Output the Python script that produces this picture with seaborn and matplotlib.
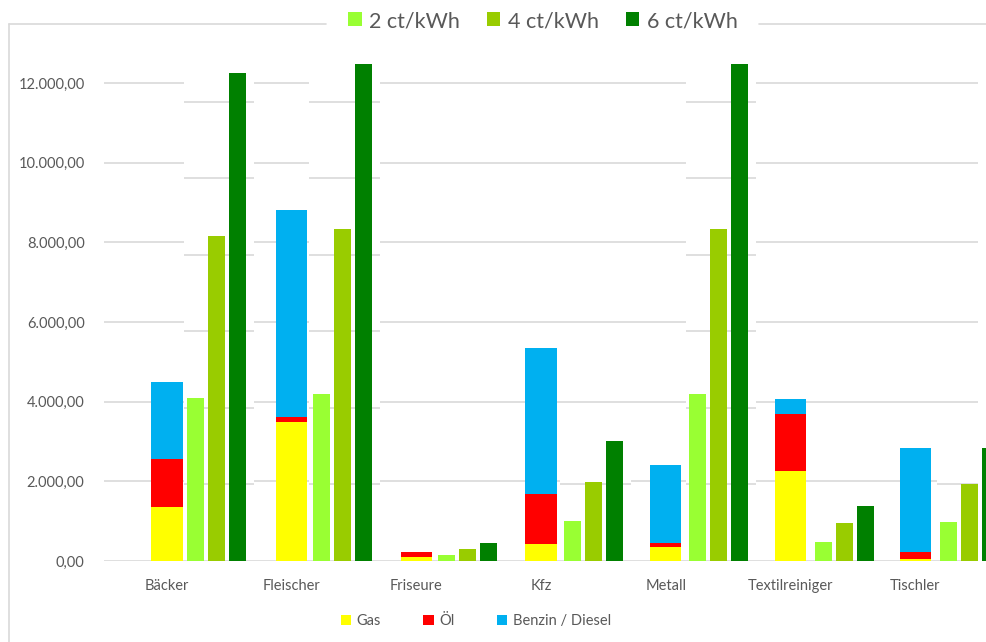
import matplotlib
matplotlib.use("Agg")
import matplotlib.pyplot as plt
from matplotlib.patches import Rectangle, Patch
from matplotlib.lines import Line2D
from matplotlib.ticker import FuncFormatter
import seaborn as sns
import pandas as pd

# ---- data -------------------------------------------------------------
categories = ["Bäcker", "Fleischer", "Friseure", "Kfz", "Metall", "Textilreiniger", "Tischler"]

# current energy costs by carrier (stacked)
gas    = [1360, 3500,  95,  420,  345, 2270,   60]
oel    = [1190,  110, 140, 1260,  100, 1410,  175]
benzin = [1940, 5200,   0, 3670, 1965,  390, 2605]
carrier_labels = ["Gas", "Öl", "Benzin / Diesel"]

# electricity cost at different price levels (secondary scale)
price_labels = ["2 ct/kWh", "4 ct/kWh", "6 ct/kWh"]
strom_2ct = [4250, 4370, 160, 1050, 4370,  505, 1010]
strom_4ct = [8500, 8680, 310, 2070, 8680,  985, 2005]
strom_6ct = [12770, 12990, 460, 3140, 12990, 1445, 2950]

y_ticks = [0, 2000, 4000, 6000, 8000, 10000, 12000]

# ---- style ------------------------------------------------------------
sns.set_theme(style="white")
plt.rcParams["font.family"] = ["Lato", "DejaVu Sans"]

c_gas, c_oel, c_benzin = "#FFFF00", "#FF0000", "#00B0F0"
greens = ["#99FF33", "#99CC00", "#008000"]
grid_c = "#D9D9D9"
text_c = "#595959"

W, H = 987, 642
fig = plt.figure(figsize=(W / 100, H / 100), dpi=100)
fig.patch.set_facecolor("white")


def fx(px):
    return px / W


def fy(py):
    return 1 - py / H


rect = [fx(104), fy(561), fx(978) - fx(104), fy(23) - fy(561)]

# ---- primary axis: stacked carriers ------------------------------------
ax = fig.add_axes(rect)
df = pd.DataFrame({"Gewerk": categories, "Gas": gas, "Öl": oel, "Benzin / Diesel": benzin})
df["bis_oel"] = df["Gas"] + df["Öl"]
df["bis_benzin"] = df["bis_oel"] + df["Benzin / Diesel"]

for col, colr in [("bis_benzin", c_benzin), ("bis_oel", c_oel), ("Gas", c_gas)]:
    sns.barplot(data=df, x="Gewerk", y=col, color=colr, saturation=1, width=0.25,
                linewidth=0, errorbar=None, ax=ax, zorder=2)

ax.set_xlim(-0.505, 6.504)
ax.set_ylim(0, 13506)
ax.set_yticks(y_ticks)
ax.yaxis.set_major_formatter(FuncFormatter(
    lambda v, p: f"{v:,.2f}".replace(",", "X").replace(".", ",").replace("X", ".")))
ax.yaxis.grid(True, color=grid_c, lw=1.2)
ax.set_axisbelow(True)
for s in ax.spines.values():
    s.set_visible(False)
ax.set_xlabel("")
ax.set_ylabel("")
ax.tick_params(axis="y", length=0, pad=14, labelsize=10.5, labelcolor=text_c)
ax.tick_params(axis="x", length=0, pad=13, labelsize=10.5, labelcolor=text_c)

# ---- secondary axis: electricity price scenarios -----------------------
ax2 = fig.add_axes(rect, facecolor="none")
gdf = pd.DataFrame({
    "Gewerk": categories * 3,
    "Preis": [p for p in price_labels for _ in categories],
    "Kosten": strom_2ct + strom_4ct + strom_6ct,
})
sns.barplot(data=gdf, x="Gewerk", y="Kosten", hue="Preis", palette=greens,
            saturation=1, width=0.502, gap=0.19, linewidth=0, errorbar=None,
            legend=False, ax=ax2, zorder=3)
for p in ax2.patches:
    p.set_clip_on(False)

ax2.set_xlim(-0.899, 6.065)
ax2.set_ylim(0, 14065)

# white backdrop behind each group of price bars with its own grid lines
left, right = 0.265, 0.30
for i, top in enumerate(strom_6ct):
    ax2.add_patch(Rectangle((i - left, 0), left + right, top, facecolor="white",
                            edgecolor="none", zorder=1))
    for t in y_ticks:
        if t <= top:
            ax2.hlines(t, i - left, i + right, color=grid_c, lw=1.2, zorder=2)

ax2.set_xticks([])
ax2.set_yticks([])
ax2.set_xlabel("")
ax2.set_ylabel("")
for s in ax2.spines.values():
    s.set_visible(False)

# ---- chart frame -------------------------------------------------------
frame_kw = dict(color=grid_c, lw=1.2, transform=fig.transFigure)
fig.add_artist(Line2D([fx(9), fx(9)], [fy(24), fy(H + 5)], **frame_kw))
fig.add_artist(Line2D([fx(9), fx(326)], [fy(24), fy(24)], **frame_kw))
fig.add_artist(Line2D([fx(759), fx(W + 5)], [fy(24), fy(24)], **frame_kw))

# ---- legends -----------------------------------------------------------
top_handles = [Patch(facecolor=g, edgecolor="none") for g in greens]
fig.legend(top_handles, price_labels, loc="center", bbox_to_anchor=(fx(543), fy(21)),
           ncol=3, frameon=False, fontsize=15.5, labelcolor=text_c,
           handlelength=0.62, handleheight=0.62, handletextpad=0.35,
           columnspacing=1.25, borderpad=0)

bot_handles = [Patch(facecolor=c, edgecolor="none") for c in (c_gas, c_oel, c_benzin)]
fig.legend(bot_handles, carrier_labels, loc="center", bbox_to_anchor=(fx(476), fy(621)),
           ncol=3, frameon=False, fontsize=10.5, labelcolor=text_c,
           handlelength=0.7, handleheight=0.7, handletextpad=0.4,
           columnspacing=2.9, borderpad=0)

fig.savefig("out.png", dpi=100, facecolor="white")
